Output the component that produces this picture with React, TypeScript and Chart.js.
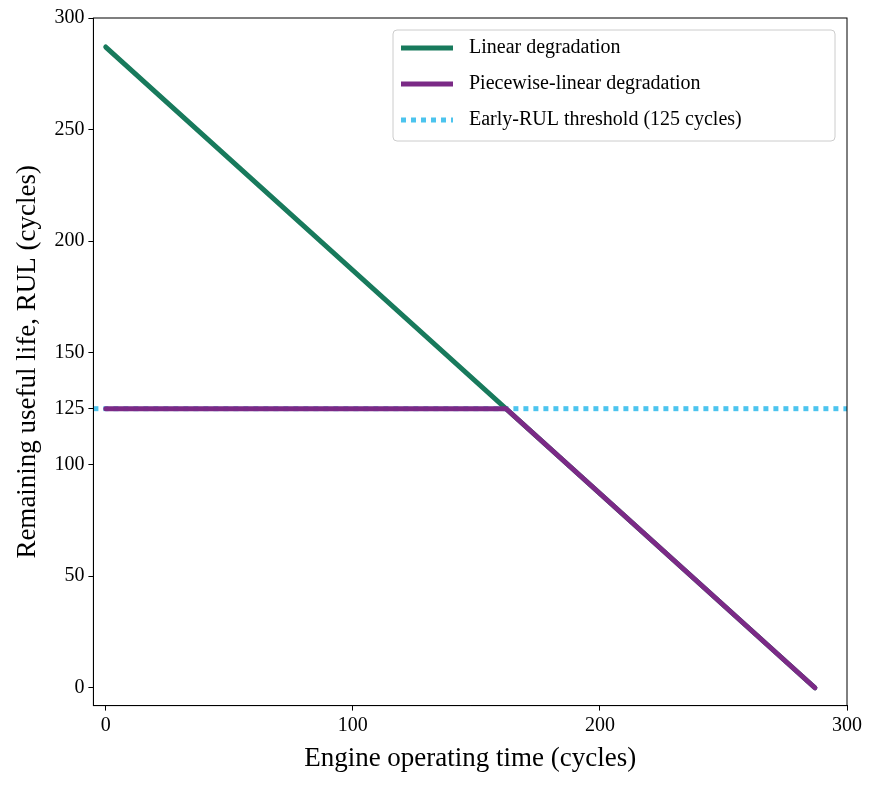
import React, { useEffect, useRef } from "react";
import { Chart, registerables } from "chart.js";
Chart.register(...registerables);

const linearX = [0, 287];
const linearY = [287, 0];
const pieceX = [0, 162, 287];
const pieceY = [125, 125, 0];
const threshX = [-5, 300];
const threshY = [125, 125];
const xTicks = [0, 100, 200, 300];
const yTicks = [0, 50, 100, 125, 150, 200, 250, 300];
const legendLabels = ["Linear degradation", "Piecewise-linear degradation", "Early-RUL threshold (125 cycles)"];
const colors = ["#187a5c", "#7b2a86", "#4cc4ee"];
const FONT = "'Liberation Serif', 'DejaVu Serif', serif";

const zip = (xs: number[], ys: number[]) => xs.map((x, i) => ({ x, y: ys[i] }));

const framePlugin = {
  id: "frame",
  afterDraw(chart: any) {
    const { ctx, chartArea: a } = chart;
    ctx.save();
    ctx.strokeStyle = "#000";
    ctx.lineWidth = 1;
    ctx.strokeRect(a.left, a.top, a.right - a.left, a.bottom - a.top);
    const bx = a.right - 454, by = a.top + 12, bw = 442, bh = 111;
    ctx.fillStyle = "rgba(255,255,255,0.85)";
    ctx.strokeStyle = "#ccc";
    ctx.beginPath();
    ctx.roundRect(bx, by, bw, bh, 4);
    ctx.fill();
    ctx.stroke();
    ctx.font = `20px ${FONT}`;
    ctx.textBaseline = "middle";
    legendLabels.forEach((t, i) => {
      const y = by + 18 + i * 36;
      ctx.strokeStyle = colors[i];
      ctx.lineWidth = 5;
      ctx.setLineDash(i === 2 ? [5, 5] : []);
      ctx.beginPath();
      ctx.moveTo(bx + 8, y);
      ctx.lineTo(bx + 60, y);
      ctx.stroke();
      ctx.setLineDash([]);
      ctx.fillStyle = "#000";
      ctx.fillText(t, bx + 76, y);
    });
    ctx.restore();
  },
};

export default function App() {
  const ref = useRef<HTMLCanvasElement>(null);
  useEffect(() => {
    const chart = new Chart(ref.current!, {
      type: "scatter",
      data: {
        datasets: [
          { data: zip(pieceX, pieceY), borderColor: colors[1], borderWidth: 5, showLine: true, pointRadius: 0, borderCapStyle: "round" },
          { data: zip(linearX, linearY), borderColor: colors[0], borderWidth: 5, showLine: true, pointRadius: 0, borderCapStyle: "round" },
          { data: zip(threshX, threshY), borderColor: colors[2], borderWidth: 5, showLine: true, pointRadius: 0, borderDash: [5, 5] },
        ] as any,
      },
      options: {
        animation: false,
        responsive: false,
        layout: { padding: { top: 18, right: 25, left: 8, bottom: 8 } },
        plugins: { legend: { display: false }, tooltip: { enabled: false } },
        scales: {
          x: {
            min: -5, max: 300,
            afterBuildTicks: (s: any) => { s.ticks = xTicks.map((v) => ({ value: v })); },
            grid: { display: true, drawOnChartArea: false, drawTicks: true, tickLength: 5, tickColor: "#000" } as any,
            border: { color: "#000" },
            ticks: { color: "#000", font: { family: FONT, size: 20 }, maxRotation: 0, padding: 3 },
            title: { display: true, text: "Engine operating time (cycles)", color: "#000", font: { family: FONT, size: 27 }, padding: { top: 2 } },
          },
          y: {
            min: -8, max: 300,
            afterBuildTicks: (s: any) => { s.ticks = yTicks.map((v) => ({ value: v })); },
            grid: { display: true, drawOnChartArea: false, drawTicks: true, tickLength: 5, tickColor: "#000" } as any,
            border: { color: "#000" },
            ticks: { color: "#000", font: { family: FONT, size: 20 }, padding: 4, autoSkip: false },
            title: { display: true, text: "Remaining useful life, RUL (cycles)", color: "#000", font: { family: FONT, size: 27 }, padding: { bottom: 6 } },
          },
        },
      },
      plugins: [framePlugin],
    });
    return () => chart.destroy();
  }, []);
  return (
    <div style={{ position: "absolute", left: 0, top: 0, background: "#fff" }}>
      <canvas ref={ref} width={872} height={787} style={{ width: 872, height: 787 }} />
    </div>
  );
}
